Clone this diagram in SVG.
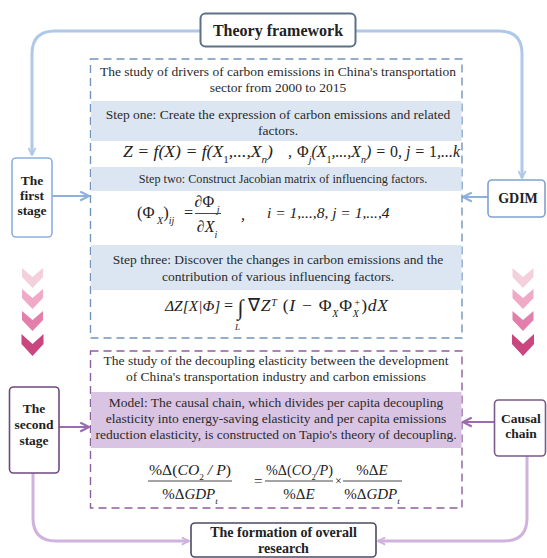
<svg xmlns="http://www.w3.org/2000/svg" width="547" height="558" viewBox="0 0 547 558">
<style>
.t{font-family:"Liberation Serif","Times New Roman",serif;font-size:13.5px;fill:#2a2a2a;text-anchor:middle}
.b{font-family:"Liberation Serif","Times New Roman",serif;font-size:13.5px;font-weight:bold;fill:#222;text-anchor:middle}
.m{font-family:"Liberation Serif","Times New Roman",serif;font-size:17px;font-style:italic;fill:#222}
.u{font-style:normal}
.bl{fill:none;stroke:#afc8e8;stroke-width:3}
.pl{fill:none;stroke:#cfb2dd;stroke-width:3}
.ba{fill:none;stroke:#8db1dc;stroke-width:2}
.pa{fill:none;stroke:#9b6cae;stroke-width:2}
.dashB{fill:#fff;stroke:#7394bb;stroke-width:1.4;stroke-dasharray:8 5}
.dashP{fill:#fff;stroke:#8d5f9f;stroke-width:1.4;stroke-dasharray:8 5}
.bandB{fill:#dce6f2}
.bandP{fill:#dac4e3}
.fb{stroke:#333;stroke-width:0.9}
</style>
<defs>
<marker id="aB" viewBox="0 0 10 10" refX="9" refY="5" markerWidth="11" markerHeight="11" markerUnits="userSpaceOnUse" orient="auto"><path d="M1,1 L9,5 L1,9" fill="none" stroke="#8db1dc" stroke-width="2"/></marker>
<marker id="aP" viewBox="0 0 10 10" refX="9" refY="5" markerWidth="11" markerHeight="11" markerUnits="userSpaceOnUse" orient="auto"><path d="M1,1 L9,5 L1,9" fill="none" stroke="#9b6cae" stroke-width="2"/></marker>
<marker id="aBl" viewBox="0 0 10 10" refX="9" refY="5" markerWidth="9" markerHeight="9" markerUnits="userSpaceOnUse" orient="auto"><path d="M1,1 L9,5 L1,9" fill="none" stroke="#afc8e8" stroke-width="2"/></marker>
<marker id="aPl" viewBox="0 0 10 10" refX="9" refY="5" markerWidth="9" markerHeight="9" markerUnits="userSpaceOnUse" orient="auto"><path d="M1,1 L9,5 L1,9" fill="none" stroke="#cfb2dd" stroke-width="2"/></marker>
<path id="chev" d="M-10.5,0 L0,9 L10.5,0 L10.5,9 L0,20 L-10.5,9 Z"/>
</defs>
<rect width="547" height="558" fill="#fff"/>

<g id="connectors">
<path class="bl" d="M200,31 H55 Q32,31 32,54 V155" marker-end="url(#aBl)"/>
<path class="bl" d="M355,31 H499 Q522,31 522,54 V178" marker-end="url(#aBl)"/>
<path class="pl" d="M33,473 V518 Q33,541 56,541 H189" marker-end="url(#aPl)"/>
<path class="pl" d="M527,456 V518 Q527,541 504,541 H378" marker-end="url(#aPl)"/>
<path class="ba" d="M52,196 H89" marker-end="url(#aB)"/>
<path class="ba" d="M488,197 H463" marker-end="url(#aB)"/>
<path class="pa" d="M59,427 H89" marker-end="url(#aP)"/>
<path class="pa" d="M494,422 H463" marker-end="url(#aP)"/>
</g>

<g id="chevrons-left">
<use href="#chev" x="32.5" y="268" fill="#f4d0dd"/>
<use href="#chev" x="32.5" y="289" fill="#eeaac6"/>
<use href="#chev" x="32.5" y="311" fill="#e27fab"/>
<use href="#chev" x="32.5" y="334" fill="#c9467f" transform="translate(32.5 334) scale(1.05 1.1) translate(-32.5 -334)"/>
</g>
<g id="chevrons-right">
<use href="#chev" x="523" y="268" fill="#f4d0dd"/>
<use href="#chev" x="523" y="289" fill="#eeaac6"/>
<use href="#chev" x="523" y="311" fill="#e27fab"/>
<use href="#chev" x="523" y="334" fill="#c9467f" transform="translate(523 334) scale(1.05 1.1) translate(-523 -334)"/>
</g>

<g id="theory-framework">
<rect x="200.5" y="13.5" width="155" height="33" rx="5" fill="#fff" stroke="#5d7289" stroke-width="2"/>
<text x="278" y="35.5" class="b" style="font-size:16px">Theory framework</text>
</g>

<g id="first-stage">
<rect x="12" y="158" width="40" height="79" rx="4" fill="#fff" stroke="#8db1dc" stroke-width="1.6"/>
<text class="b" x="32" y="185">The</text>
<text class="b" x="32" y="200">first</text>
<text class="b" x="32" y="215">stage</text>
</g>

<g id="gdim">
<rect x="488" y="180" width="57" height="37" rx="4" fill="#fff" stroke="#7fa3cd" stroke-width="1.6"/>
<text class="b" x="518" y="203" style="font-size:14px">GDIM</text>
</g>

<g id="second-stage">
<rect x="9.5" y="387" width="49.5" height="86" rx="4" fill="#fff" stroke="#6f4a7f" stroke-width="1.6"/>
<text class="b" x="34" y="413">The</text>
<text class="b" x="34" y="429">second</text>
<text class="b" x="34" y="445">stage</text>
</g>

<g id="causal-chain">
<rect x="494.5" y="400" width="51" height="56" rx="4" fill="#fff" stroke="#7b5a8c" stroke-width="1.6"/>
<text class="b" x="521" y="423">Causal</text>
<text class="b" x="521" y="438">chain</text>
</g>

<g id="overall-research">
<rect x="191" y="523" width="185" height="34" rx="4" fill="#fff" stroke="#4b4a66" stroke-width="1.6"/>
<text class="b" x="283.5" y="537" style="font-size:14px">The formation of overall</text>
<text class="b" x="283.5" y="553" style="font-size:14px">research</text>
</g>

<g id="stage-one-box">
<rect class="dashB" x="90.5" y="59" width="371.5" height="279"/>
<text class="t" x="278" y="76">The study of drivers of carbon emissions in China's transportation</text>
<text class="t" x="278" y="92">sector from 2000 to 2015</text>
<rect class="bandB" x="91" y="101" width="370.5" height="40"/>
<text class="t" x="278" y="119">Step one: Create the expression of carbon emissions and related</text>
<text class="t" x="278" y="135">factors.</text>
<text class="m" x="123" y="157" style="font-size:16px" textLength="150" lengthAdjust="spacingAndGlyphs">Z = f(X) = f(X<tspan class="u" font-size="10" baseline-shift="sub">1</tspan>,...,X<tspan font-size="10" baseline-shift="sub">n</tspan>)</text>
<text class="m" x="288" y="157" style="font-size:16px">,</text>
<text class="m" x="297" y="157" style="font-size:16px" textLength="163" lengthAdjust="spacingAndGlyphs"><tspan class="u">Φ</tspan><tspan font-size="10" baseline-shift="sub">j</tspan>(X<tspan class="u" font-size="10" baseline-shift="sub">1</tspan>,...,X<tspan font-size="10" baseline-shift="sub">n</tspan>) = <tspan class="u">0</tspan>, j = <tspan class="u">1</tspan>,...k</text>
<rect class="bandB" x="91" y="167" width="370.5" height="24"/>
<text class="t" x="283" y="183" style="font-size:12.2px">Step two: Construct Jacobian matrix of influencing factors.</text>
<text class="m" x="137" y="218" style="font-size:16.5px"><tspan class="u">(Φ</tspan><tspan font-size="10" baseline-shift="sub"> X</tspan><tspan class="u">)</tspan><tspan font-size="10" baseline-shift="sub">ij</tspan></text>
<text class="m" x="183" y="218" style="font-size:16px">=</text>
<text class="m" x="207" y="207" style="font-size:16px;text-anchor:middle"><tspan class="u">∂Φ</tspan><tspan font-size="10" baseline-shift="sub"> j</tspan></text>
<line class="fb" x1="195" y1="213.5" x2="221" y2="213.5"/>
<text class="m" x="207" y="232" style="font-size:16px;text-anchor:middle"><tspan class="u">∂</tspan>X<tspan font-size="10" baseline-shift="sub">i</tspan></text>
<text class="m" x="241" y="220" style="font-size:16px">,</text>
<text class="m" x="267" y="218" style="font-size:15.5px">i = 1,...,8, j = 1,...,4</text>
<rect class="bandB" x="91" y="245" width="370.5" height="45"/>
<text class="t" x="278" y="264">Step three: Discover the changes in carbon emissions and the</text>
<text class="t" x="278" y="281">contribution of various influencing factors.</text>
<text class="m" x="165" y="311" style="font-size:15.5px">ΔZ[X|Φ]</text>
<text class="m" x="223" y="311" style="font-size:16px">=</text>
<text class="m" x="237.5" y="315" style="font-size:22px">∫</text>
<text class="m" x="235" y="330" style="font-size:9px">L</text>
<text class="m" x="248" y="311" style="font-size:17.5px" textLength="140" lengthAdjust="spacing"><tspan class="u">∇</tspan>Z<tspan font-size="10" baseline-shift="super">T</tspan><tspan class="u"> (</tspan>I − <tspan class="u">Φ</tspan><tspan font-size="10" baseline-shift="sub">X</tspan><tspan class="u">Φ</tspan><tspan font-size="10" baseline-shift="sub">X</tspan><tspan font-size="10" dx="-6" baseline-shift="super">+</tspan><tspan class="u">)</tspan>dX</text>
</g>

<g id="stage-two-box">
<rect class="dashP" x="90.5" y="351" width="371.5" height="157"/>
<text class="t" x="276" y="365">The study of the decoupling elasticity between the development</text>
<text class="t" x="276" y="381">of China's transportation industry and carbon emissions</text>
<rect class="bandP" x="91" y="392" width="370.5" height="56"/>
<text class="t" x="276" y="407">Model: The causal chain, which divides per capita decoupling</text>
<text class="t" x="276" y="423">elasticity into energy-saving elasticity and per capita emissions</text>
<text class="t" x="276" y="439">reduction elasticity, is constructed on Tapio's theory of decoupling.</text>
<text class="m" x="149" y="475" style="font-size:15px" textLength="82" lengthAdjust="spacingAndGlyphs"><tspan class="u">%Δ(</tspan>CO<tspan class="u" font-size="9" baseline-shift="sub">2</tspan> / P<tspan class="u">)</tspan></text>
<line class="fb" x1="148" y1="481" x2="232" y2="481"/>
<text class="m" x="190" y="499" style="font-size:15px;text-anchor:middle"><tspan class="u">%Δ</tspan>GDP<tspan font-size="9" baseline-shift="sub">t</tspan></text>
<text class="m" x="254" y="486" style="font-size:15px"><tspan class="u">=</tspan></text>
<text class="m" x="266" y="475" style="font-size:15px" textLength="67" lengthAdjust="spacingAndGlyphs"><tspan class="u">%Δ(</tspan>CO<tspan class="u" font-size="9" baseline-shift="sub">2</tspan>/P<tspan class="u">)</tspan></text>
<line class="fb" x1="265" y1="481" x2="333" y2="481"/>
<text class="m" x="299" y="499" style="font-size:15px;text-anchor:middle"><tspan class="u">%Δ</tspan>E</text>
<text class="m" x="338.5" y="485" style="font-size:12px;text-anchor:middle"><tspan class="u">×</tspan></text>
<text class="m" x="372" y="475" style="font-size:15px;text-anchor:middle"><tspan class="u">%Δ</tspan>E</text>
<line class="fb" x1="343" y1="481" x2="402" y2="481"/>
<text class="m" x="372" y="499" style="font-size:15px;text-anchor:middle"><tspan class="u">%Δ</tspan>GDP<tspan font-size="9" baseline-shift="sub">t</tspan></text>
</g>
</svg>
